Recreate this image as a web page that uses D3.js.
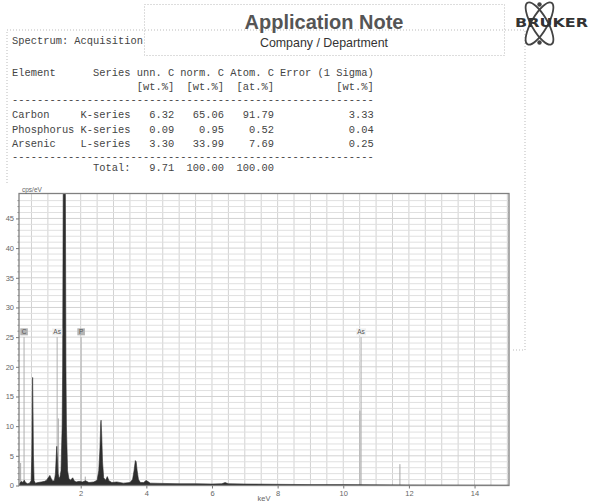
<!DOCTYPE html>
<html>
<head>
<meta charset="utf-8">
<script src="https://cdn.jsdelivr.net/npm/d3@7"></script>
<style>
  html, body { margin: 0; padding: 0; background: #fff; }
  svg { display: block; }
  .mono { font-family: "Liberation Mono", "DejaVu Sans Mono", monospace; white-space: pre; }
</style>
</head>
<body>
<svg id="page" width="594" height="504"></svg>
<script>
// quantification table
const elements = ['Carbon', 'Phosphorus', 'Arsenic'];
const seriesNames = ['K-series', 'K-series', 'L-series'];
const unnC = [6.32, 0.09, 3.30];
const normC = [65.06, 0.95, 33.99];
const atomC = [91.79, 0.52, 7.69];
const errorSigma = [3.33, 0.04, 0.25];
const totals = [9.71, 100.00, 100.00];

// spectrum outline as [keV, cps/eV]
const spectrum = [
  [0.12, 0.2], [0.16, 0.5], [0.2, 0.7], [0.24, 0.5], [0.28, 0.9], [0.32, 0.5],
  [0.38, 0.3], [0.44, 0.4], [0.49, 0.8], [0.51, 5], [0.525, 14], [0.535, 18.2],
  [0.545, 14], [0.56, 5], [0.58, 0.8], [0.62, 0.4], [0.7, 0.5], [0.8, 0.6],
  [0.9, 0.7], [0.96, 0.9], [1.01, 1.3], [1.06, 1.7], [1.1, 1.2], [1.15, 0.7],
  [1.2, 0.9], [1.23, 2.0], [1.255, 5.0], [1.27, 6.6], [1.285, 5.0], [1.31, 2.0],
  [1.34, 1.2], [1.37, 1.5], [1.40, 2.5], [1.435, 10], [1.45, 20], [1.464, 45],
  [1.475, 60], [1.525, 60], [1.536, 45], [1.55, 20], [1.565, 10], [1.6, 2.5],
  [1.64, 1.2], [1.69, 0.9], [1.757, 1.3], [1.8, 0.8], [1.86, 0.6], [1.95, 0.7],
  [2.05, 0.6], [2.15, 0.8], [2.25, 0.5], [2.4, 0.6], [2.5, 0.9], [2.55, 2.5],
  [2.585, 6], [2.61, 10.5], [2.62, 11.0], [2.64, 8.5], [2.665, 4], [2.7, 1.3],
  [2.76, 0.9], [2.81, 1.5], [2.86, 0.8], [2.95, 0.5], [3.1, 0.6], [3.3, 0.4],
  [3.5, 0.5], [3.58, 1.0], [3.625, 2.5], [3.665, 4.2], [3.69, 4.0], [3.72, 2.5],
  [3.76, 1.0], [3.82, 0.5], [3.92, 0.5], [3.99, 0.85], [4.04, 0.7], [4.12, 0.4],
  [4.5, 0.35], [5.0, 0.3], [5.5, 0.3], [6.0, 0.25], [6.3, 0.3], [6.4, 0.5],
  [6.5, 0.3], [7.0, 0.25], [8.0, 0.2], [9.0, 0.15], [10.0, 0.15], [11.0, 0.12],
  [12.0, 0.1], [13.0, 0.08], [15.05, 0.05]
];

// element lines
const lineLabels = ['C', 'As', 'P', 'As'];
const lineEnergies = [0.274, 1.282, 2.013, 10.543];
const lineHeights = [25, 25, 25, 25];
const lineBoxed = [true, false, true, false];
const minorEnergies = [0.17, 1.317, 2.139, 10.508, 11.726];
const minorHeights = [3.8, 11.3, 1.5, 12.6, 3.6];

const xTickValues = [2, 4, 6, 8, 10, 12, 14];
const yTickValues = [0, 5, 10, 15, 20, 25, 30, 35, 40, 45];

const svg = d3.select('#page');

// ---- report frame (dotted boxes) ----
const dotted = g => g.attr('fill', 'none').attr('stroke', '#bbb')
  .attr('stroke-width', 1).attr('stroke-dasharray', '1,2');

svg.append('path')
  .attr('d', 'M7,183 L7,30 L525,30 L525,350 L513,350')
  .call(dotted);
svg.append('rect')
  .attr('x', 144.5).attr('y', 4.5).attr('width', 360).attr('height', 51)
  .attr('fill', '#fff')
  .call(dotted);

svg.append('text')
  .attr('x', 324).attr('y', 28.5)
  .attr('text-anchor', 'middle')
  .style('font-family', '"Liberation Sans", Arial, sans-serif')
  .style('font-weight', 'bold')
  .style('font-size', '20px')
  .attr('fill', '#555')
  .text('Application Note');

svg.append('text')
  .attr('x', 324).attr('y', 46.5)
  .attr('text-anchor', 'middle')
  .style('font-family', '"Liberation Sans", Arial, sans-serif')
  .style('font-size', '12.4px')
  .attr('fill', '#333')
  .text('Company / Department');

// ---- logo ----
const logo = svg.append('g').attr('transform', 'translate(539.5,23.5)');
[60, -60].forEach(a => {
  logo.append('ellipse')
    .attr('rx', 24).attr('ry', 8)
    .attr('transform', `rotate(${a})`)
    .attr('fill', 'none').attr('stroke', '#444').attr('stroke-width', 1.8);
});
[[0, -19], [0, 19]].forEach(p => {
  logo.append('circle').attr('cx', p[0]).attr('cy', p[1]).attr('r', 2.2).attr('fill', '#444');
});
svg.append('text')
  .attr('x', 515).attr('y', 26.5)
  .attr('textLength', 73).attr('lengthAdjust', 'spacingAndGlyphs')
  .style('font-family', '"DejaVu Sans", sans-serif')
  .style('font-weight', 'bold')
  .style('font-size', '11.5px')
  .attr('fill', '#333')
  .text('BRUKER');

// ---- results table in fixed columns ----
const f2 = d3.format('.2f');
const rows = [
  { y: 44.4, s: 'Spectrum: Acquisition' },
  { y: 75.5, s: 'Element'.padEnd(13) + 'Series' + ' unn. C' + ' norm. C' + ' Atom. C' + ' Error (1 Sigma)' },
  { y: 90, s: ' '.repeat(20) + '[wt.%]' + '  [wt.%]' + '  [at.%]' + '[wt.%]'.padStart(16) },
  { y: 102.6, s: '-'.repeat(58) }
];
elements.forEach((el, i) => {
  rows.push({
    y: 118.1 + i * 14.45,
    s: el.padEnd(10) + ' ' + seriesNames[i] +
      f2(unnC[i]).padStart(7) + f2(normC[i]).padStart(8) +
      f2(atomC[i]).padStart(8) + f2(errorSigma[i]).padStart(16)
  });
});
rows.push({ y: 159.7, s: '-'.repeat(58) });
rows.push({
  y: 171.3,
  s: 'Total:'.padStart(19) + f2(totals[0]).padStart(7) +
    f2(totals[1]).padStart(8) + f2(totals[2]).padStart(8)
});

svg.append('g')
  .selectAll('text')
  .data(rows)
  .enter()
  .append('text')
  .attr('class', 'mono')
  .attr('x', 12)
  .attr('y', d => d.y)
  .style('font-size', '10.4px')
  .attr('fill', '#444')
  .text(d => d.s);

// ---- spectrum chart ----
const plot = { left: 19, top: 193.5, right: 509, bottom: 485.5 };

const x = d3.scaleLinear().domain([0.12, 15.05]).range([plot.left, plot.right]);
const y = d3.scaleLinear().domain([0, 49.2]).range([plot.bottom, plot.top]);

svg.append('clipPath').attr('id', 'plotClip')
  .append('rect')
  .attr('x', plot.left).attr('y', plot.top)
  .attr('width', plot.right - plot.left).attr('height', plot.bottom - plot.top);

const chart = svg.append('g');

// grid: 0.5 keV vertical, 1 cps/eV horizontal
chart.append('g')
  .selectAll('line')
  .data(d3.range(0.5, 15.01, 0.5))
  .enter()
  .append('line')
  .attr('x1', d => x(d)).attr('x2', d => x(d))
  .attr('y1', plot.top).attr('y2', plot.bottom)
  .attr('stroke', '#d2d2d2').attr('stroke-width', 1);

chart.append('g')
  .selectAll('line')
  .data(d3.range(1, 49, 1))
  .enter()
  .append('line')
  .attr('x1', plot.left).attr('x2', plot.right)
  .attr('y1', d => y(d)).attr('y2', d => y(d))
  .attr('stroke', d => d % 5 === 0 ? '#d2d2d2' : '#e0e0e0').attr('stroke-width', 1);

// element marker lines
const clipped = chart.append('g').attr('clip-path', 'url(#plotClip)');

clipped.append('g')
  .selectAll('line')
  .data(minorEnergies)
  .enter()
  .append('line')
  .attr('x1', d => x(d)).attr('x2', d => x(d))
  .attr('y1', y(0)).attr('y2', (d, i) => y(minorHeights[i]))
  .attr('stroke', '#a8a8a8').attr('stroke-width', 1);

clipped.append('g')
  .selectAll('line')
  .data(lineEnergies)
  .enter()
  .append('line')
  .attr('x1', d => x(d)).attr('x2', d => x(d))
  .attr('y1', y(0)).attr('y2', (d, i) => y(lineHeights[i]))
  .attr('stroke', '#b0b0b0').attr('stroke-width', 1);

// spectrum
const area = d3.area()
  .x(d => x(d[0]))
  .y0(y(0))
  .y1(d => y(d[1]));

clipped.append('path')
  .datum(spectrum)
  .attr('d', area)
  .attr('fill', '#2e2e2e')
  .attr('stroke', '#2e2e2e')
  .attr('stroke-width', 0.6);

// element labels
const labels = chart.append('g')
  .selectAll('g')
  .data(lineLabels)
  .enter()
  .append('g')
  .attr('transform', (d, i) => `translate(${x(lineEnergies[i])},${y(lineHeights[i]) - 5})`);

labels.append('rect')
  .attr('x', d => d.length > 1 ? -5 : -3.8)
  .attr('y', -3.8)
  .attr('width', d => d.length > 1 ? 10 : 7.6)
  .attr('height', 7)
  .attr('fill', (d, i) => lineBoxed[i] ? '#b4b4b4' : '#f0f0f0');

labels.append('text')
  .attr('text-anchor', 'middle')
  .attr('y', 2.3)
  .style('font-family', '"Liberation Sans", Arial, sans-serif')
  .style('font-size', '6.5px')
  .attr('fill', '#555')
  .text(d => d);

// frame
chart.append('rect')
  .attr('x', plot.left).attr('y', plot.top)
  .attr('width', plot.right - plot.left).attr('height', plot.bottom - plot.top)
  .attr('fill', 'none').attr('stroke', '#808080').attr('stroke-width', 1.3);

// axes
const tickFont = g => g.selectAll('text')
  .style('font-family', '"Liberation Sans", Arial, sans-serif')
  .style('font-size', '7.5px')
  .attr('fill', '#666');

const yAxis = chart.append('g')
  .attr('transform', `translate(${plot.left},0)`)
  .call(d3.axisLeft(y).tickValues(yTickValues).tickSize(3).tickPadding(2));
yAxis.select('.domain').remove();
yAxis.selectAll('line').attr('stroke', '#777');
yAxis.call(tickFont);

chart.append('g')
  .selectAll('line')
  .data(d3.range(1, 49, 1).filter(d => d % 5 !== 0))
  .enter()
  .append('line')
  .attr('x1', plot.left - 1.5).attr('x2', plot.left)
  .attr('y1', d => y(d)).attr('y2', d => y(d))
  .attr('stroke', '#888');

const xAxis = chart.append('g')
  .attr('transform', `translate(0,${plot.bottom})`)
  .call(d3.axisBottom(x).tickValues(xTickValues).tickSize(3).tickPadding(2));
xAxis.select('.domain').remove();
xAxis.selectAll('line').attr('stroke', '#777');
xAxis.call(tickFont);

chart.append('text')
  .attr('x', 22).attr('y', 192)
  .style('font-family', '"Liberation Sans", Arial, sans-serif')
  .style('font-size', '6.5px')
  .attr('fill', '#666')
  .text('cps/eV');

chart.append('text')
  .attr('x', 264).attr('y', 501)
  .attr('text-anchor', 'middle')
  .style('font-family', '"Liberation Sans", Arial, sans-serif')
  .style('font-size', '7.5px')
  .attr('fill', '#666')
  .text('keV');
</script>
</body>
</html>
